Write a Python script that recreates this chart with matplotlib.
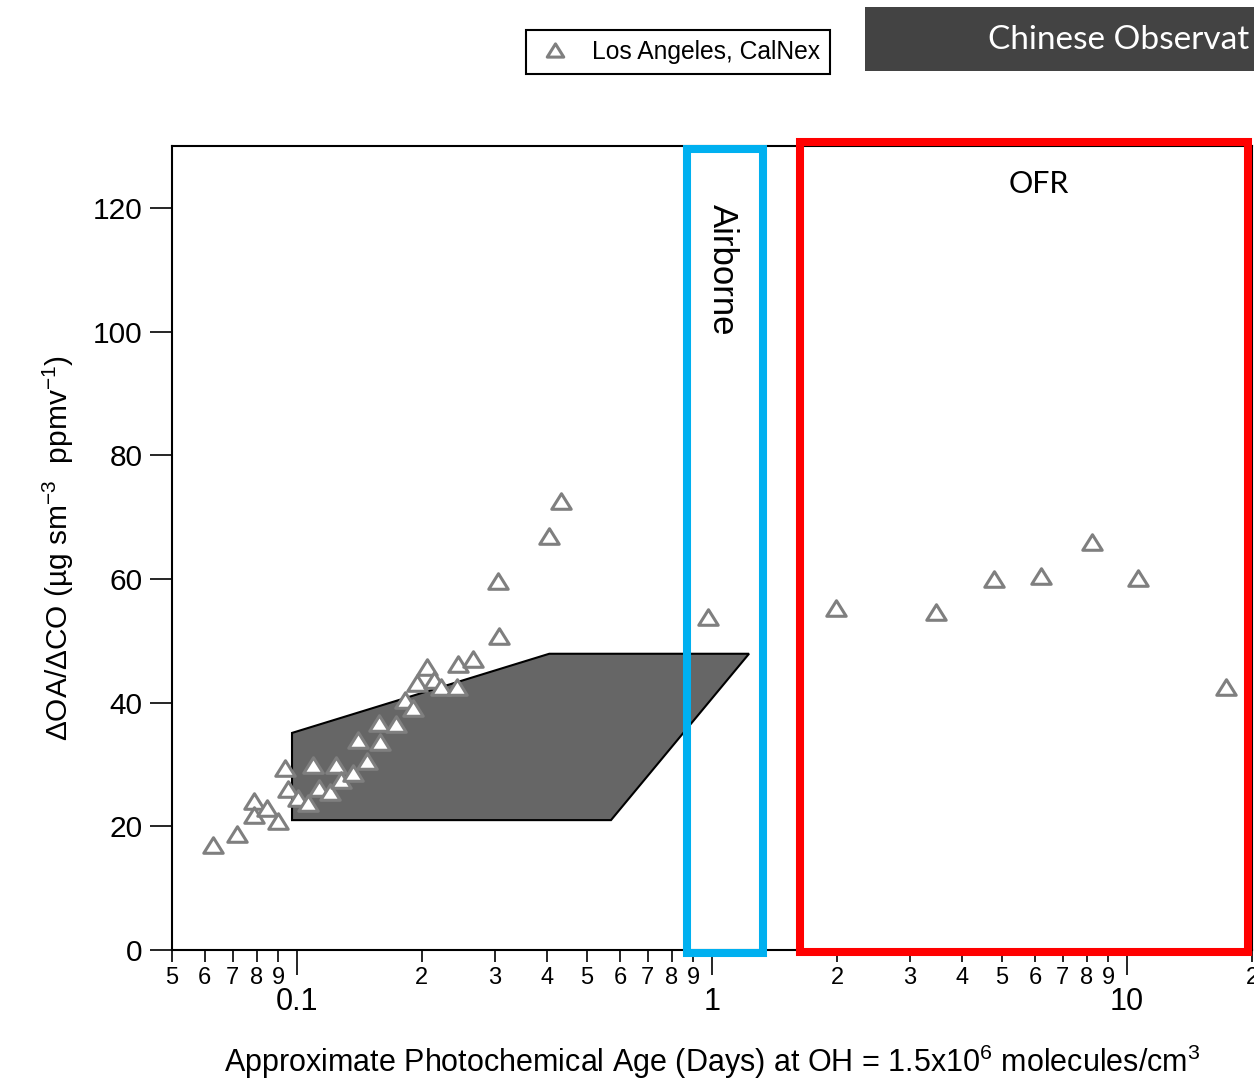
import numpy as np
import matplotlib
matplotlib.use("Agg")
import matplotlib.pyplot as plt
from matplotlib.path import Path
from matplotlib.patches import Rectangle
from matplotlib.ticker import FixedLocator, FuncFormatter, LogLocator
from matplotlib.lines import Line2D

plt.rcParams['font.family'] = ['Liberation Sans', 'DejaVu Sans']
plt.rcParams['mathtext.fontset'] = 'custom'
plt.rcParams['mathtext.rm'] = 'Liberation Sans'
plt.rcParams['mathtext.it'] = 'Liberation Sans:italic'
plt.rcParams['mathtext.bf'] = 'Liberation Sans:bold'

# Los Angeles (CalNex) observations: photochemical age (days) vs dOA/dCO
age_days = [0.0626, 0.0718, 0.0788, 0.0788, 0.0845, 0.0899, 0.0937, 0.0950,
            0.1004, 0.1065, 0.1095, 0.1130, 0.1201, 0.1240, 0.1277, 0.1367,
            0.1405, 0.1472, 0.1576, 0.1585, 0.1729, 0.1821, 0.1906, 0.1943,
            0.2054, 0.2139, 0.2220, 0.2426, 0.2439, 0.2651, 0.3067, 0.3056,
            0.4055, 0.4319, 0.978,
            1.989, 3.465, 4.789, 6.204, 8.235, 10.61, 17.32]
oa_co = [17.0, 18.8, 24.1, 21.8, 23.0, 20.8, 29.5, 26.0,
         24.5, 23.8, 29.9, 26.2, 25.5, 29.9, 27.5, 28.6,
         33.9, 30.5, 36.7, 33.7, 36.6, 40.4, 39.1, 43.2,
         45.7, 43.6, 42.6, 42.6, 46.2, 47.1, 50.8, 59.7,
         67.0, 72.6, 53.9,
         55.3, 54.7, 60.0, 60.5, 65.9, 60.1, 42.6]

# Shaded envelope of other observations
envelope_age = [0.0973, 0.4055, 1.228, 0.571, 0.0973]
envelope_ratio = [35.1, 47.9, 47.9, 21.0, 21.0]

# Highlighted age ranges (days)
airborne_range = (0.871, 1.327)
ofr_range = (1.629, 19.57)

major_ticks = [0.1, 1, 10]
major_labels = ['0.1', '1', '10']
y_ticks = [0, 20, 40, 60, 80, 100, 120]

W, H = 1254, 1080
fig = plt.figure(figsize=(W / 100, H / 100), dpi=100)
ax = fig.add_axes([172 / W, 1 - 950 / H, (1252 - 172) / W, (950 - 146) / H])

ax.set_xscale('log')
ax.set_xlim(0.05, 20)
ax.set_ylim(0, 130)

# open triangle marker, slightly wider than tall
tri = Path([(-1, -0.8), (1, -0.8), (0, 0.8), (-1, -0.8)],
           [Path.MOVETO, Path.LINETO, Path.LINETO, Path.CLOSEPOLY])

ax.fill(envelope_age, envelope_ratio, facecolor='#666666', edgecolor='black',
        linewidth=1.5, zorder=2)
ax.plot(age_days, oa_co, linestyle='none', marker=tri, markersize=14,
        markerfacecolor='white', markeredgecolor='#7f7f7f', markeredgewidth=2.2,
        zorder=3)

# region boxes
ax.add_patch(Rectangle((airborne_range[0], -0.5), airborne_range[1] - airborne_range[0], 130.0,
                       fill=False, edgecolor='#00B0F0', linewidth=5.8, clip_on=False, zorder=5))
ax.add_patch(Rectangle((ofr_range[0], -0.3), ofr_range[1] - ofr_range[0], 130.9,
                       fill=False, edgecolor='#FF0000', linewidth=5.8, clip_on=False, zorder=5))
ax.text(1.057, 110.0, 'Airborne', rotation=-90, ha='center', va='center', fontsize=25)
ax.text(6.14, 123.9, 'OFR', ha='center', va='center', fontsize=22,
        family=['Lato', 'DejaVu Sans'])

# axes styling
for s in ax.spines.values():
    s.set_linewidth(1.5)
ax.yaxis.set_major_locator(FixedLocator(y_ticks))
ax.tick_params(axis='y', which='major', direction='out', length=16, width=1.2,
               labelsize=21.5, pad=5)
ax.tick_params(axis='y', which='minor', left=False)

ax.xaxis.set_major_locator(FixedLocator(major_ticks))
ax.xaxis.set_major_formatter(FuncFormatter(lambda v, p: major_labels[major_ticks.index(v)]
                                           if v in major_ticks else ''))
ax.xaxis.set_minor_locator(LogLocator(base=10, subs=np.arange(2, 10), numticks=20))


def minor_fmt(v, pos):
    lead = v / 10 ** np.floor(np.log10(v) + 1e-9)
    return '%d' % round(lead)


ax.xaxis.set_minor_formatter(FuncFormatter(minor_fmt))
ax.tick_params(axis='x', which='major', direction='out', length=18, width=1.2,
               labelsize=22, pad=9)
ax.tick_params(axis='x', which='minor', direction='out', length=8.5, width=1.2,
               labelsize=17, pad=4)

ax.set_xlabel('Approximate Photochemical Age (Days) at OH = 1.5x10$^{\\mathregular{6}}$ molecules/cm$^{\\mathregular{3}}$',
              fontsize=22, labelpad=18)
ax.set_ylabel('ΔOA/ΔCO (µg sm$^{\\mathregular{-3}}$  ppmv$^{\\mathregular{-1}}$)',
              fontsize=21.5, labelpad=12)

# legend
handle = Line2D([], [], linestyle='none', marker=tri, markersize=14,
                markerfacecolor='white', markeredgecolor='#7f7f7f', markeredgewidth=2.2)
leg = fig.legend([handle], ['Los Angeles, CalNex'], loc='center',
                 bbox_to_anchor=(678 / W, 1 - 52 / H), fontsize=17.7, frameon=True,
                 fancybox=False, edgecolor='black', framealpha=1, markerscale=0.85,
                 handlelength=1.6, handletextpad=0.7, borderpad=0.4, borderaxespad=0)
leg.get_frame().set_linewidth(1.5)

# title banner
fig.patches.append(Rectangle((865 / W, 1 - 71 / H), (W - 865) / W, 64 / H,
                             transform=fig.transFigure, facecolor='#434343',
                             edgecolor='none'))
fig.text(988 / W, 1 - 40 / H, 'Chinese Observat', color='white', fontsize=24,
         ha='left', va='center', family=['Lato', 'DejaVu Sans'])

fig.savefig('out.png', dpi=100)
